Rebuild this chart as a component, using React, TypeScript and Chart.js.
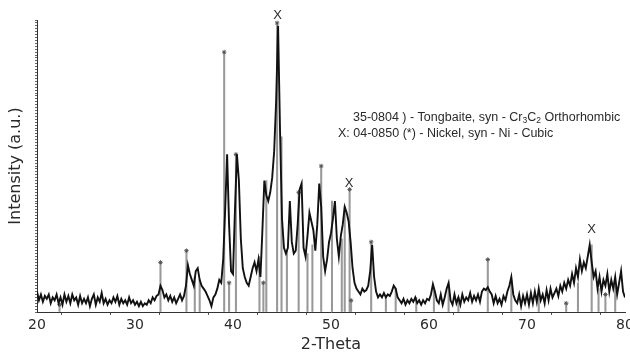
import React, { useEffect, useRef } from "react";
import { Chart, registerables } from "chart.js";

Chart.register(...registerables);

// Measured diffraction pattern: start angle, step, and intensities (a.u., 0-100)
const THETA_START = 20;
const THETA_STEP = 0.2;
const intensity = [
  7, 4, 6, 3.5, 5.5,
  4.5, 6, 3, 5, 4,
  6, 3, 5, 2.5, 6,
  3.5, 5.5, 3, 6, 4,
  5, 2.5, 5.5, 3, 4.5,
  3, 5, 2, 4.5, 6,
  2.5, 5, 3.5, 6.5, 3,
  4.5, 2.5, 4, 3, 5,
  3.5, 5.5, 2.5, 4.5, 3,
  4, 2.5, 5, 3, 4,
  2.5, 3.5, 2, 3.5, 2,
  3, 2.5, 4, 3, 5,
  4, 5.5, 6, 9, 7.5,
  5, 6, 4, 5.5, 3.5,
  5, 3, 4.5, 6, 4,
  5.5, 9, 16, 13, 11,
  9, 14, 15, 11, 9,
  8, 7, 5.5, 4, 2,
  5, 6, 8, 11, 10,
  18, 35, 54, 30, 14,
  13, 35, 54, 45, 25,
  15, 12, 10, 9, 12,
  15, 17, 14, 18, 12,
  28, 45, 40, 38, 41,
  46, 55, 72, 98, 62,
  32, 22, 20, 22, 38,
  24, 20, 21, 30, 42,
  44, 22, 19, 26, 34,
  31, 28, 21, 30, 44,
  36, 19, 14, 18, 24,
  27, 32, 38, 25, 19,
  26, 30, 36, 34, 31,
  24, 15, 10, 8, 7,
  6, 8, 7, 7.5, 9,
  14, 23, 12, 7, 5,
  6, 5, 6.5, 5, 6,
  5.5, 7, 9, 8, 5,
  4, 3, 4.5, 2.5, 4,
  3, 4.5, 3.5, 5, 3,
  4, 2.5, 4, 3, 4.5,
  4, 6, 9.5, 7, 4,
  3, 6, 2.5, 5, 8,
  10, 4, 2.5, 6, 3,
  5, 2.5, 6, 3.5, 5,
  4, 6.5, 3.5, 5.5, 4,
  6, 3.5, 7, 8, 7.5,
  8.5, 7, 6, 3, 5.5,
  3, 4.5, 2.5, 5.5, 4,
  7, 9, 12, 6, 4,
  3, 6, 2, 5.5, 3,
  6, 2.5, 6.5, 3, 7,
  3.5, 8, 4, 6, 3,
  7.5, 4, 8, 5, 6.5,
  8, 5.5, 9, 7, 10,
  8, 11, 9, 13, 10,
  15, 12, 18, 14, 17,
  15, 19, 23, 17, 12,
  14, 8, 12, 7, 11,
  9, 13, 7, 11, 8,
  12, 6, 10, 14, 7,
  5,
];

// Reference pattern sticks (PDF cards)
const stickTheta = [22.3, 32.6, 35.25, 36.1, 36.6, 39.1, 39.6, 40.3, 42.7, 43.1, 43.4, 44.5, 44.95, 45.5, 46.7, 47.6, 48.1, 49.0, 50.1, 51.1, 51.4, 51.9, 52.05, 54.1, 55.6, 56.6, 58.7, 60.5, 62.0, 63.0, 66.0, 68.4, 71.2, 74.0, 75.2, 76.6, 77.3, 78.0, 79.0];
const stickHeight = [2.5, 17, 21, 12, 11, 89, 10, 54, 19, 10, 45, 99, 60, 21, 41, 20, 23, 50, 38, 25, 36, 42, 4, 24, 5, 8, 5, 8, 9, 5, 18, 11, 7, 3, 10, 23, 8, 6, 9];
const stickMarked = [1, 1, 1, 0, 0, 1, 1, 1, 0, 1, 0, 1, 0, 0, 1, 0, 0, 1, 0, 0, 0, 1, 1, 1, 0, 0, 0, 0, 0, 0, 1, 0, 0, 1, 0, 0, 0, 1, 0];

// "X" labels over nickel reflections
const peakMarkTheta = [44.55, 51.85, 76.6];
const peakMarkLevel = [101.7, 44.2, 28.4];
const peakMarkLabel = "X";

// Axis settings
const X_MIN = 20;
const X_MAX = 80;
const X_TICK_STEP = 5;
const X_LABEL_EVERY = 10;
const Y_MIN = 0;
const Y_MAX = 100;
const X_TITLE = "2-Theta";
const Y_TITLE = "Intensity (a.u.)";

// Legend text (segments: [text, isSubscript])
const legendLine1: [string, boolean][] = [
  ["35-0804 ) - Tongbaite, syn - Cr", false],
  ["3", true],
  ["C", false],
  ["2", true],
  [" Orthorhombic", false],
];
const legendLine2: [string, boolean][] = [["X: 04-0850 (*) - Nickel, syn - Ni - Cubic", false]];

const AXIS_FONT = "'DejaVu Sans', sans-serif";
const TEXT_FONT = "'Liberation Sans', Arial, sans-serif";
const TEXT_COLOR = "#2a2a2a";

function drawRich(ctx: CanvasRenderingContext2D, segs: [string, boolean][], x: number, y: number) {
  let cx = x;
  for (const [t, sub] of segs) {
    ctx.font = (sub ? "8.5px " : "12.5px ") + TEXT_FONT;
    ctx.fillText(t, cx, sub ? y + 3 : y);
    cx += ctx.measureText(t).width;
  }
}

const overlayPlugin = {
  id: "overlay",
  afterDraw(chart: any) {
    const { ctx, scales } = chart;
    const xs = scales.x;
    const ys = scales.y;
    ctx.save();
    ctx.fillStyle = TEXT_COLOR;
    ctx.textAlign = "center";
    ctx.textBaseline = "middle";
    ctx.font = "13px " + TEXT_FONT;
    peakMarkTheta.forEach((t, i) => {
      ctx.fillText(peakMarkLabel, xs.getPixelForValue(t), ys.getPixelForValue(peakMarkLevel[i]));
    });
    ctx.textAlign = "left";
    const left = chart.chartArea.left;
    drawRich(ctx, legendLine1, left + 316, 118);
    drawRich(ctx, legendLine2, left + 301, 134);
    ctx.restore();
  },
};

export default function App() {
  const ref = useRef<HTMLCanvasElement | null>(null);

  useEffect(() => {
    if (!ref.current) return;
    const pattern = intensity.map((v, i) => ({ x: THETA_START + i * THETA_STEP, y: v }));
    const sticks = stickTheta.map((t, i) => ({ x: t, y: stickHeight[i] }));
    const marks = stickTheta
      .map((t, i) => ({ x: t, y: stickHeight[i], m: stickMarked[i] }))
      .filter((p) => p.m === 1)
      .map((p) => ({ x: p.x, y: p.y }));

    const chart = new Chart(ref.current, {
      type: "line",
      data: {
        datasets: [
          {
            type: "line",
            data: pattern,
            borderColor: "#111",
            borderWidth: 1.9,
            pointRadius: 0,
            tension: 0,
            order: 0,
          } as any,
          {
            type: "line",
            data: marks,
            showLine: false,
            pointStyle: "star",
            pointRadius: 2.2,
            borderColor: "#555",
            borderWidth: 1,
            order: 1,
          } as any,
          {
            type: "bar",
            data: sticks,
            backgroundColor: "#999999",
            barThickness: 1.4,
            order: 2,
          } as any,
        ],
      },
      options: {
        responsive: false,
        animation: false,
        events: [],
        layout: { padding: { top: 20, right: 2, left: 0, bottom: 0 } },
        plugins: { legend: { display: false }, tooltip: { enabled: false } },
        scales: {
          x: {
            type: "linear",
            min: X_MIN,
            max: X_MAX,
            offset: false,
            afterFit: (s: any) => {
              s.height = 50;
              s.paddingLeft = 0;
              s.paddingRight = 0;
            },
            border: { display: true, color: "#333", width: 1 },
            grid: { drawOnChartArea: false, drawTicks: true, tickLength: 3, color: "#555" },
            ticks: {
              stepSize: X_TICK_STEP,
              autoSkip: false,
              maxRotation: 0,
              padding: 2,
              color: TEXT_COLOR,
              font: { family: AXIS_FONT, size: 14 },
              callback: (v: any) => (Number(v) % X_LABEL_EVERY === 0 ? String(v) : ""),
            },
            title: {
              display: true,
              text: X_TITLE,
              color: TEXT_COLOR,
              font: { family: AXIS_FONT, size: 16 },
              padding: { top: 0, bottom: 8 },
            },
          },
          y: {
            type: "linear",
            min: Y_MIN,
            max: Y_MAX,
            afterFit: (s: any) => {
              s.width = 37;
            },
            border: { display: true, color: "#333", width: 1 },
            grid: { drawOnChartArea: false, drawTicks: true, tickLength: 2, color: "#666" },
            ticks: { display: false, stepSize: 1, autoSkip: false },
            title: {
              display: true,
              text: Y_TITLE,
              color: TEXT_COLOR,
              font: { family: AXIS_FONT, size: 16 },
              padding: { top: 6, bottom: 0 },
            },
          },
        },
      },
      plugins: [overlayPlugin],
    });
    return () => chart.destroy();
  }, []);

  return (
    <div style={{ position: "absolute", left: 0, top: 0, width: 630, height: 362, background: "#fff" }}>
      <canvas ref={ref} width={630} height={362} style={{ display: "block" }} />
    </div>
  );
}
